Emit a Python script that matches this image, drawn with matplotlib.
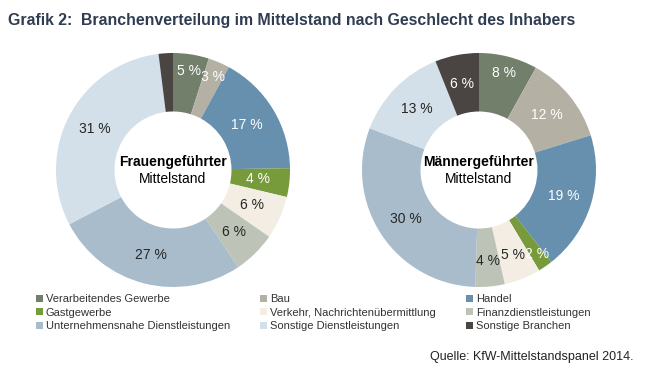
import matplotlib
matplotlib.use("Agg")
import matplotlib.pyplot as plt
import numpy as np
from matplotlib.patches import Patch

plt.rcParams['font.family'] = ['Liberation Sans', 'DejaVu Sans']

# Branchen (legend order)
branchen = ['Verarbeitendes Gewerbe', 'Bau', 'Handel',
            'Gastgewerbe', 'Verkehr, Nachrichtenübermittlung', 'Finanzdienstleistungen',
            'Unternehmensnahe Dienstleistungen', 'Sonstige Dienstleistungen', 'Sonstige Branchen']
farben = ['#717F6B', '#B4B1A4', '#6690AE', '#779A3B', '#F3EDE4',
          '#BEC3B8', '#A9BCCB', '#D3E0E9', '#4A4543']
text_farben = ['white', 'white', 'white', 'white', '#262626',
               '#262626', '#262626', '#262626', 'white']

# Anteile in %
frauen = [5, 3, 17, 4, 6, 6, 27, 31, 2]
frauen_labels = ['5 %', '3 %', '17 %', '4 %', '6 %', '6 %', '27 %', '31 %', '']
maenner = [8, 12, 19, 2, 5, 4, 30, 13, 6]
maenner_labels = ['8 %', '12 %', '19 %', '2 %', '5 %', '4 %', '30 %', '13 %', '6 %']

# label distance from centre (fraction of radius)
frauen_dist = [0.86, 0.86, 0.74, 0.73, 0.74, 0.74, 0.75, 0.75, 0.75]
maenner_dist = [0.86, 0.75, 0.76, 0.87, 0.78, 0.78, 0.75, 0.74, 0.75]

W, H = 651, 380
fig = plt.figure(figsize=(W / 100, H / 100), dpi=100)


def donut(cx, cy, werte, labels, dist, titel):
    r = 117
    ax = fig.add_axes([(cx - r) / W, (H - cy - r) / H, 2 * r / W, 2 * r / H])
    wedges, _ = ax.pie(werte, colors=farben, startangle=90, counterclock=False,
                       radius=1, wedgeprops=dict(width=0.5, linewidth=0))
    for w, lab, d, c in zip(wedges, labels, dist, text_farben):
        if not lab:
            continue
        mid = np.deg2rad((w.theta1 + w.theta2) / 2)
        ax.text(d * np.cos(mid), d * np.sin(mid), lab, ha='center', va='center',
                fontsize=10, color=c)
    ax.text(0, 0.07, titel, ha='center', va='center', fontsize=10,
            fontweight='bold', color='black')
    ax.text(0, -0.08, 'Mittelstand', ha='center', va='center', fontsize=10,
            color='black')
    ax.set_xlim(-1, 1)
    ax.set_ylim(-1, 1)
    ax.axis('off')


donut(173, 170, frauen, frauen_labels, frauen_dist, 'Frauengeführter')
donut(479, 170, maenner, maenner_labels, maenner_dist, 'Männergeführter')

fig.text(8 / W, 1 - 20 / H, 'Grafik 2:  Branchenverteilung im Mittelstand nach Geschlecht des Inhabers',
         fontsize=11.4, fontweight='bold', color='#2F3C52', va='center', ha='left')

# legend, filled row by row
handles = [Patch(facecolor=f, edgecolor='none', label=b) for f, b in zip(farben, branchen)]
order = [0, 3, 6, 1, 4, 7, 2, 5, 8]
fig.legend([handles[i] for i in order], [branchen[i] for i in order],
           ncol=3, loc='upper left', bbox_to_anchor=(36 / W, 1 - 294 / H),
           frameon=False, fontsize=8, handlelength=0.6, handleheight=0.6,
           handletextpad=0.3, columnspacing=2.7, labelspacing=0.32,
           labelcolor='#333333', borderaxespad=0, borderpad=0)

fig.text(634 / W, 1 - 357 / H, 'Quelle: KfW-Mittelstandspanel 2014.', fontsize=9,
         ha='right', va='center', color='#222222')

fig.savefig('out.png', dpi=100)
